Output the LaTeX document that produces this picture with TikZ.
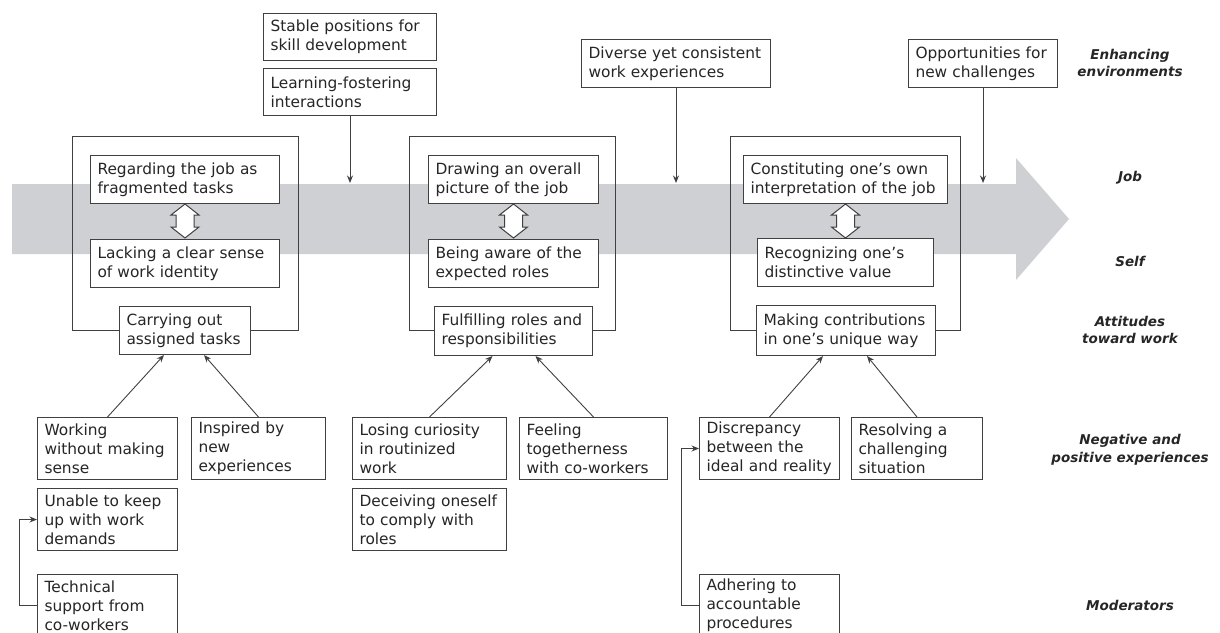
\documentclass[tikz,border=0pt]{standalone}
\usepackage{fontspec}
\setmainfont{DejaVu Sans}
\usetikzlibrary{arrows.meta,calc}
\definecolor{bandgray}{RGB}{207,208,211}
\definecolor{linegray}{RGB}{64,64,64}
\tikzset{
  box/.style={draw=linegray, line width=1pt, fill=white, anchor=north west, align=left,
    inner xsep=7pt, inner ysep=0pt, text=black!85, font=\fontsize{15.4}{19}\selectfont},
  side/.style={align=center, text=black!85, font=\fontsize{13.5}{17.6}\selectfont\bfseries\itshape},
  arr/.style={draw=linegray, line width=0.9pt, -{Stealth[length=7.5pt,width=6pt]}},
  dbl/.style={draw=linegray, line width=1pt, fill=white},
  stage/.style={draw=linegray, line width=1pt}
}

\begin{document}
\begin{tikzpicture}[x=1pt,y=-1pt]
    \useasboundingbox (0,0) rectangle (1220,632);

    \fill[bandgray] (12,184) -- (1016,184) -- (1016,158) -- (1069,219) -- (1016,280) -- (1016,254) -- (12,254) -- cycle;
    \coordinate (bandtop) at (0,183);

    \draw[stage] (72,136) rectangle (298,330);
    \draw[stage] (409,136) rectangle (615,330);
    \draw[stage] (730,136) rectangle (960,330);

    \node[box, text width=159pt, minimum height=47pt] (stable) at (263,13) {Stable positions for\\skill development};
    \node[box, text width=159pt, minimum height=47pt] (learn) at (263,68) {Learning-fostering\\interactions};
    \node[box, text width=175pt, minimum height=48pt] (diverse) at (581,39) {Diverse yet consistent\\work experiences};
    \node[box, text width=135pt, minimum height=48pt] (oppor) at (908,39) {Opportunities for\\new challenges};

    \node[box, text width=175pt, minimum height=48pt] (frag) at (90,155) {Regarding the job as\\fragmented tasks};
    \node[box, text width=175pt, minimum height=48pt] (lack) at (90,239) {Lacking a clear sense\\of work identity};
    \node[box, text width=117pt, minimum height=48pt] (carry) at (119,306) {Carrying out\\assigned tasks};

    \node[box, text width=156pt, minimum height=48pt] (whole) at (428,155) {Drawing an overall\\picture of the job};
    \node[box, text width=156pt, minimum height=48pt] (aware) at (428,239) {Being aware of the\\expected roles};
    \node[box, text width=144pt, minimum height=49pt] (fulfil) at (434,306) {Fulfilling roles and\\responsibilities};

    \node[box, text width=190pt, minimum height=48pt] (constit) at (743,155) {Constituting one’s own\\interpretation of the job};
    \node[box, text width=162pt, minimum height=48pt] (recog) at (757,238) {Recognizing one’s\\distinctive value};
    \node[box, text width=165pt, minimum height=50pt] (making) at (756,305) {Making contributions\\in one’s unique way};

    \node[box, text width=126pt, minimum height=62pt] (working) at (37,417) {Working\\without making\\sense};
    \node[box, text width=120pt, minimum height=62pt] (inspired) at (191,417) {Inspired by\\new\\experiences};
    \node[box, text width=126pt, minimum height=62pt] (unable) at (37,488) {Unable to keep\\up with work\\demands};
    \node[box, text width=126pt, minimum height=62pt] (tech) at (37,574) {Technical\\support from\\co-workers};

    \node[box, text width=140pt, minimum height=62pt] (losing) at (352,417) {Losing curiosity\\in routinized\\work};
    \node[box, text width=140pt, minimum height=62pt] (deceive) at (352,488) {Deceiving oneself\\to comply with\\roles};
    \node[box, text width=134pt, minimum height=62pt] (feeling) at (519,417) {Feeling\\togetherness\\with co-workers};

    \node[box, text width=126pt, minimum height=62pt] (discrep) at (699,417) {Discrepancy\\between the\\ideal and reality};
    \node[box, text width=117pt, minimum height=62pt] (resolve) at (851,417) {Resolving a\\challenging\\situation};
    \node[box, text width=126pt, minimum height=62pt] (adhere) at (699,574) {Adhering to\\accountable\\procedures};

    \foreach \a in {frag, whole, constit}
        \draw[dbl] (\a.south) -- ++(14,11) -- ++(-5,0) -- ++(0,12) -- ++(5,0) -- ++(-14,11)
            -- ++(-14,-11) -- ++(5,0) -- ++(0,-12) -- ++(-5,0) -- cycle;

    \draw[arr] (learn.south) -- (learn.south |- bandtop);
    \draw[arr] (diverse.south) -- (diverse.south |- bandtop);
    \draw[arr] (oppor.south) -- (oppor.south |- bandtop);

    \draw[arr] (working.north) -- ($(carry.south)+(-21,0)$);
    \draw[arr] (inspired.north) -- ($(carry.south)+(19,0)$);
    \draw[arr] (losing.north) -- ($(fulfil.south)+(-21,0)$);
    \draw[arr] (feeling.north) -- ($(fulfil.south)+(22,0)$);
    \draw[arr] (discrep.north) -- ($(making.south)+(-23,0)$);
    \draw[arr] (resolve.north) -- ($(making.south)+(21,0)$);

    \draw[arr] (tech.west) -- ++(-18,0) |- (unable.west);
    \draw[arr] (adhere.west) -- ++(-18,0) |- (discrep.west);

    \node[side] (lenv) at (1130,63) {Enhancing\\environments};
    \node[side] (ljob) at (1130,178) {Job};
    \node[side] (lself) at (1130,261) {Self};
    \node[side] (latt) at (1130,330) {Attitudes\\toward work};
    \node[side] (lexp) at (1130,450) {Negative and\\positive experiences};
    \node[side] (lmod) at (1130,605) {Moderators};
\end{tikzpicture}
\end{document}
